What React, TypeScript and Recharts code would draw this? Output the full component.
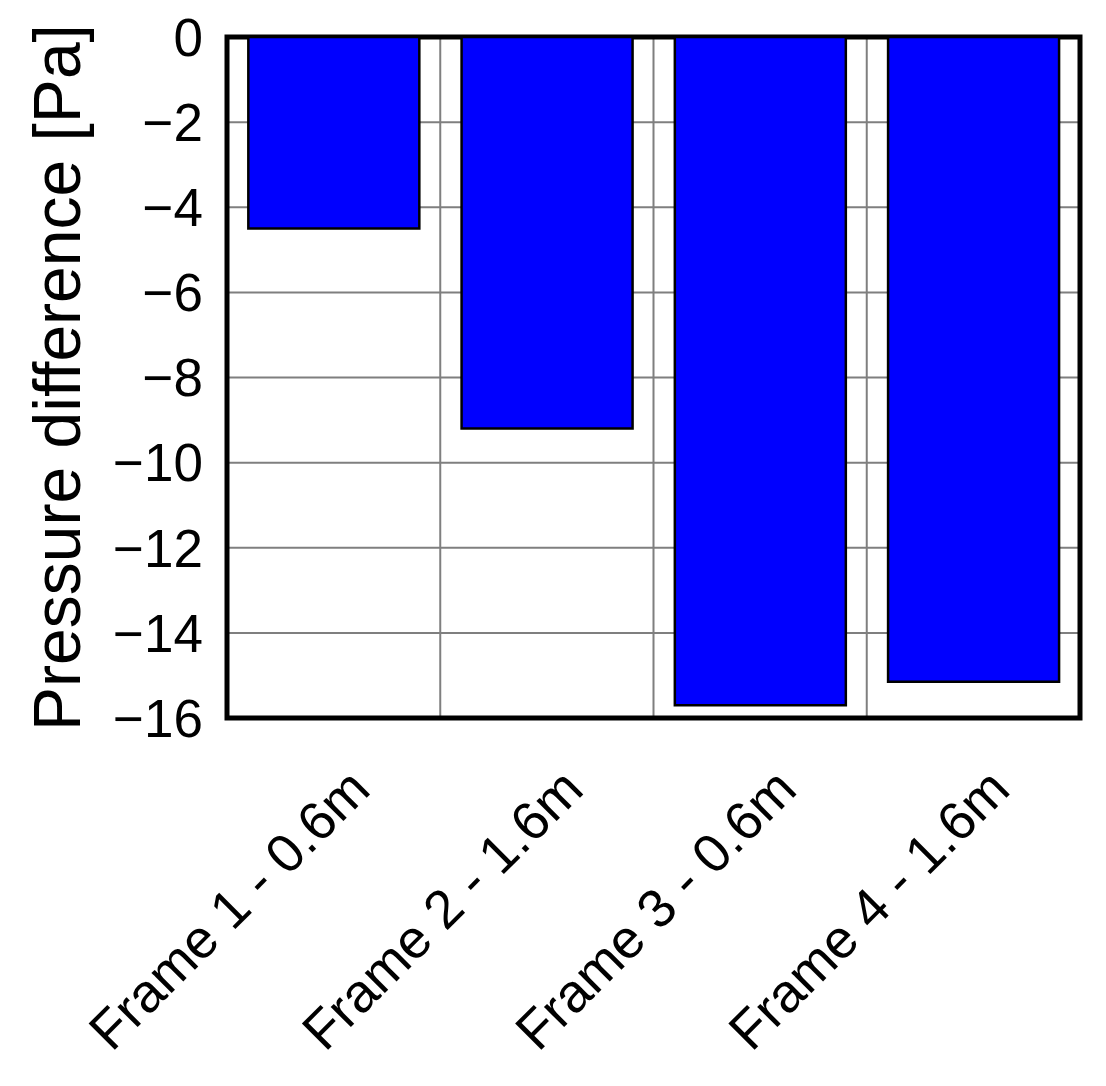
import { BarChart, Bar, XAxis, YAxis, CartesianGrid, ReferenceArea } from "recharts";

const frames = ["Frame 1 - 0.6m", "Frame 2 - 1.6m", "Frame 3 - 0.6m", "Frame 4 - 1.6m"];
const pressureDiff = [-4.5, -9.2, -15.7, -15.15];
const yTicks = [0, -2, -4, -6, -8, -10, -12, -14, -16];

const data = frames.map((name, i) => ({ name, value: pressureDiff[i] }));

const FONT = "'Liberation Sans', Arial, sans-serif";

// vertical grid lines sit on the boundaries between categories
const categoryBoundaries = ({ xAxis, offset }: any) => {
  const scale = xAxis && xAxis.scale;
  if (typeof scale === "function") return frames.slice(1).map((f) => scale(f));
  const band = offset.width / frames.length;
  return frames.slice(1).map((_, i) => offset.left + band * (i + 1));
};

// rotated category label, anchored at its end
const FrameTick = ({ x, y, payload }: any) => (
  <g transform={`translate(${x + 39},${y + 72}) rotate(-45)`}>
    <text x={0} y={0} textAnchor="end" fontSize={54} fontFamily={FONT} fill="#000">
      {payload.value}
    </text>
  </g>
);

const YLabel = ({ viewBox }: any) => {
  const cy = viewBox.y + viewBox.height / 2;
  return (
    <text
      x={80}
      y={cy}
      transform={`rotate(-90 80 ${cy})`}
      textAnchor="middle"
      fontSize={66}
      fontFamily={FONT}
      fill="#000"
    >
      Pressure difference [Pa]
    </text>
  );
};

export default function App() {
  return (
    <div style={{ position: "absolute", left: 0, top: 0, background: "#fff" }}>
      <BarChart
        width={1106}
        height={1086}
        data={data}
        margin={{ top: 37, right: 26, bottom: 0, left: 0 }}
        barCategoryGap="10%"
      >
        <CartesianGrid
          stroke="#7f7f7f"
          strokeWidth={2}
          verticalCoordinatesGenerator={categoryBoundaries}
        />
        <XAxis
          dataKey="name"
          height={368}
          tickLine={false}
          axisLine={false}
          tickSize={0}
          interval={0}
          tick={<FrameTick />}
        />
        <YAxis
          width={227}
          domain={[-16, 0]}
          ticks={yTicks}
          interval={0}
          tickLine={false}
          axisLine={false}
          tickSize={0}
          tickMargin={24}
          tick={{ fontSize: 53, fontFamily: FONT, fill: "#000" }}
          tickFormatter={(v: number) => String(v).replace("-", "\u2212")}
          label={<YLabel />}
        />
        <Bar dataKey="value" fill="#0000ff" stroke="#000" strokeWidth={2.5} isAnimationActive={false} />
        <ReferenceArea
          x1={frames[0]}
          x2={frames[frames.length - 1]}
          y1={-16}
          y2={0}
          fill="none"
          stroke="#000"
          strokeWidth={5}
          ifOverflow="visible"
        />
      </BarChart>
    </div>
  );
}
